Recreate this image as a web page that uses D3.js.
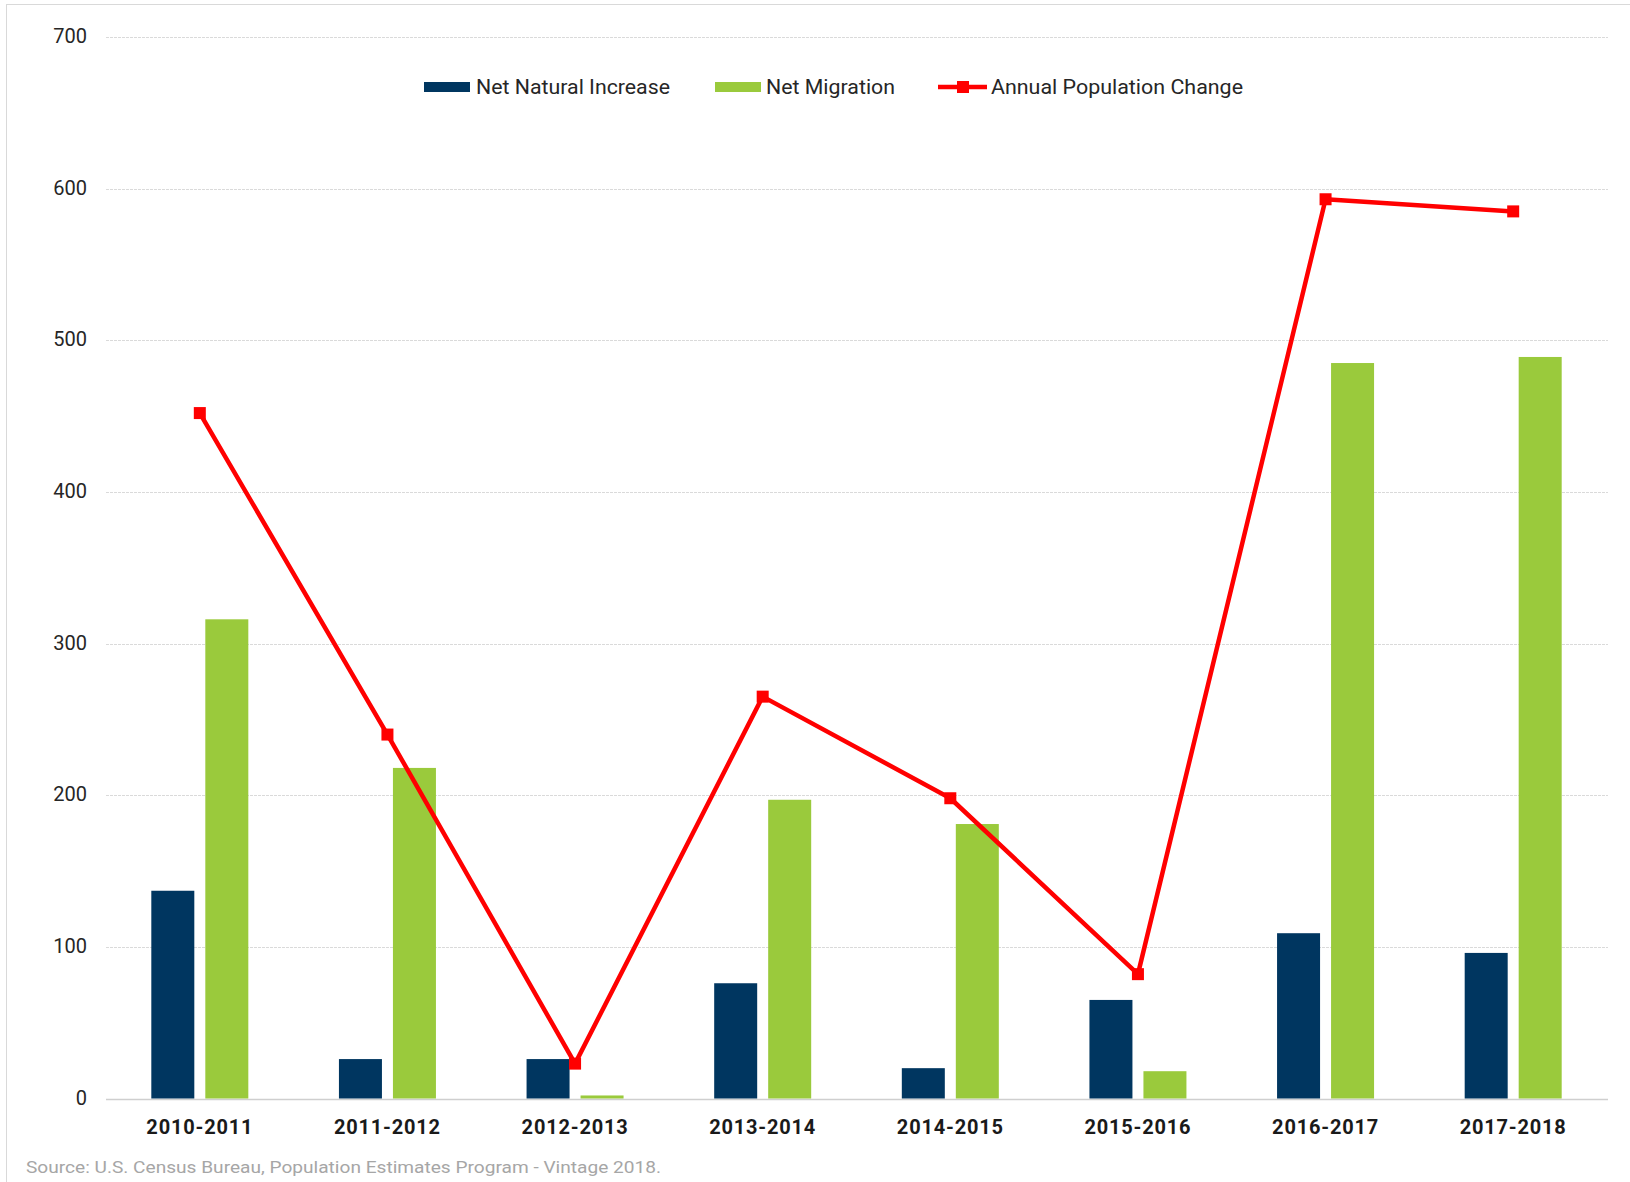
<!DOCTYPE html>
<html>
<head>
<meta charset="utf-8">
<script src="https://cdn.jsdelivr.net/npm/d3@7.9.0/dist/d3.min.js"></script>
<style>
  html, body { margin: 0; padding: 0; background: #fff; }
  svg { display: block; font-family: Roboto, 'Noto Sans', sans-serif; }
</style>
</head>
<body>
<svg id="chart" width="1630" height="1182"></svg>
<script>
const periods = ['2010-2011', '2011-2012', '2012-2013', '2013-2014', '2014-2015', '2015-2016', '2016-2017', '2017-2018'];
const naturalIncrease = [137, 26, 26, 76, 20, 65, 109, 96];
const netMigration = [316, 218, 2, 197, 181, 18, 485, 489];
const populationChange = [452, 240, 23, 265, 198, 82, 593, 585];
const yTicks = [0, 100, 200, 300, 400, 500, 600, 700];
const seriesNames = ['Net Natural Increase', 'Net Migration', 'Annual Population Change'];

const navy = '#003660';
const green = '#9aca3c';
const red = '#ff0000';

const svg = d3.select('#chart');

// light frame round the chart
svg.append('rect')
  .attr('x', 6.5).attr('y', 4.5)
  .attr('width', 1640).attr('height', 1200)
  .attr('fill', 'none')
  .attr('stroke', '#d9d9d9');

const x = d3.scaleBand()
  .domain(periods)
  .range([106, 1607]);

const xSub = d3.scaleBand()
  .domain(['natural', 'migration'])
  .range([-48.5, 48.5])
  .paddingInner(0.2037);

const y = d3.scaleLinear()
  .domain([0, 700])
  .range([1098.5, 37]);

// gridlines
svg.append('g')
  .selectAll('line')
  .data(yTicks)
  .join('line')
  .attr('x1', 106).attr('x2', 1608)
  .attr('y1', (d) => Math.round(y(d)) + 0.5)
  .attr('y2', (d) => Math.round(y(d)) + 0.5)
  .attr('stroke', (d) => d === 0 ? '#cfcfcf' : '#dadada')
  .attr('stroke-width', (d) => d === 0 ? 1.6 : 1.2)
  .attr('stroke-dasharray', (d) => d === 0 ? null : '3,1');

// y axis labels
svg.append('g')
  .selectAll('text')
  .data(yTicks)
  .join('text')
  .attr('x', 87)
  .attr('y', (d) => y(d) - 1)
  .attr('dy', '0.35em')
  .attr('text-anchor', 'end')
  .attr('font-size', 20)
  .attr('fill', '#262626')
  .text((d) => d);

// bars
const groups = svg.append('g')
  .selectAll('g')
  .data(periods)
  .join('g')
  .attr('transform', (d) => `translate(${x(d) + x.bandwidth() / 2},0)`);

groups.append('rect')
  .attr('x', xSub('natural'))
  .attr('width', xSub.bandwidth())
  .attr('y', (d, i) => y(naturalIncrease[i]))
  .attr('height', (d, i) => y(0) - y(naturalIncrease[i]))
  .attr('fill', navy);

groups.append('rect')
  .attr('x', xSub('migration'))
  .attr('width', xSub.bandwidth())
  .attr('y', (d, i) => y(netMigration[i]))
  .attr('height', (d, i) => y(0) - y(netMigration[i]))
  .attr('fill', green);

// x axis labels
svg.append('g')
  .selectAll('text')
  .data(periods)
  .join('text')
  .attr('x', (d) => x(d) + x.bandwidth() / 2)
  .attr('y', 1134)
  .attr('text-anchor', 'middle')
  .attr('font-size', 20)
  .attr('font-weight', 'bold')
  .attr('letter-spacing', 0.8)
  .attr('fill', '#1a1a1a')
  .text((d) => d);

// annual change line
const line = d3.line()
  .x((d, i) => x(periods[i]) + x.bandwidth() / 2)
  .y((d) => y(d));

svg.append('path')
  .datum(populationChange)
  .attr('d', line)
  .attr('fill', 'none')
  .attr('stroke', red)
  .attr('stroke-width', 4.5)
  .attr('stroke-linejoin', 'round');

svg.append('g')
  .selectAll('rect')
  .data(populationChange)
  .join('rect')
  .attr('x', (d, i) => x(periods[i]) + x.bandwidth() / 2 - 6)
  .attr('y', (d) => y(d) - 6)
  .attr('width', 12)
  .attr('height', 12)
  .attr('fill', red);

// legend
const legend = svg.append('g').attr('font-size', 20.5).attr('fill', '#262626');
const legendY = 87;

legend.append('rect')
  .attr('x', 424).attr('y', legendY - 5)
  .attr('width', 46).attr('height', 10)
  .attr('fill', navy);
legend.append('text')
  .attr('x', 476).attr('y', legendY).attr('dy', '0.35em')
  .attr('textLength', 194).attr('lengthAdjust', 'spacingAndGlyphs')
  .text(seriesNames[0]);

legend.append('rect')
  .attr('x', 715).attr('y', legendY - 5)
  .attr('width', 46).attr('height', 10)
  .attr('fill', green);
legend.append('text')
  .attr('x', 766).attr('y', legendY).attr('dy', '0.35em')
  .attr('textLength', 129).attr('lengthAdjust', 'spacingAndGlyphs')
  .text(seriesNames[1]);

legend.append('line')
  .attr('x1', 938).attr('x2', 987)
  .attr('y1', legendY).attr('y2', legendY)
  .attr('stroke', red).attr('stroke-width', 4.5);
legend.append('rect')
  .attr('x', 957).attr('y', legendY - 6)
  .attr('width', 12).attr('height', 12)
  .attr('fill', red);
legend.append('text')
  .attr('x', 991).attr('y', legendY).attr('dy', '0.35em')
  .attr('textLength', 252).attr('lengthAdjust', 'spacingAndGlyphs')
  .text(seriesNames[2]);

// source note
svg.append('text')
  .attr('x', 26)
  .attr('y', 1173)
  .attr('font-size', 17)
  .attr('fill', '#a6a6a6')
  .attr('textLength', 635)
  .attr('lengthAdjust', 'spacingAndGlyphs')
  .text('Source: U.S. Census Bureau, Population Estimates Program - Vintage 2018.');
</script>
</body>
</html>
